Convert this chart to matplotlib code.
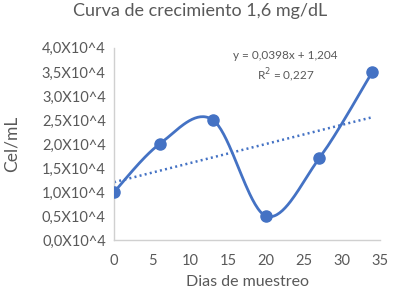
import numpy as np
import matplotlib.pyplot as plt

plt.rcParams['font.family'] = ['Lato', 'DejaVu Sans']

# --- datos ---
dias = [0, 6, 13, 20, 27, 34]
cel_ml = [1.0, 2.0, 2.5, 0.5, 1.7, 3.5]   # x10^4
pendiente = 0.0398
intercepto = 1.204
r2 = 0.227
y_ticks = [0.0, 0.5, 1.0, 1.5, 2.0, 2.5, 3.0, 3.5, 4.0]
x_ticks = [0, 5, 10, 15, 20, 25, 30, 35]

AZUL = '#4472C4'
GRIS = '#595959'


def curva_suave(x, y, n=40):
    """Curva suavizada tipo Excel (Bezier cubica, Catmull-Rom)."""
    pts = np.column_stack([x, y]).astype(float)
    pts_ext = np.vstack([pts[0], pts, pts[-1]])
    out = []
    for i in range(len(pts) - 1):
        p0, p1, p2, p3 = pts_ext[i], pts_ext[i + 1], pts_ext[i + 2], pts_ext[i + 3]
        c1 = p1 + (p2 - p0) / 6
        c2 = p2 - (p3 - p1) / 6
        t = np.linspace(0, 1, n)[:, None]
        seg = ((1 - t) ** 3) * p1 + 3 * ((1 - t) ** 2) * t * c1 + 3 * (1 - t) * t ** 2 * c2 + t ** 3 * p2
        out.append(seg if i == 0 else seg[1:])
    seg = np.vstack(out)
    return seg[:, 0], seg[:, 1]


fig = plt.figure(figsize=(4.09, 3.05), dpi=100)
ax = fig.add_axes([0.279, 0.213, 0.650, 0.630])

xs, ys = curva_suave(dias, cel_ml)
ax.plot(xs, ys, color=AZUL, lw=2.0, zorder=3)
ax.plot(dias, cel_ml, 'o', color=AZUL, ms=8, zorder=4)

xt = np.array([dias[0], dias[-1]])
ax.plot(xt, pendiente * xt + intercepto, color=AZUL, lw=1.8, ls=(0, (0.8, 1.3)), zorder=2)

etiqueta = f'y = {pendiente}x + {intercepto}\nR$^2$ = {r2}'.replace('.', ',')
ax.text(0.645, 0.90, etiqueta, transform=ax.transAxes, ha='center', va='center',
        fontsize=8.5, color=GRIS, linespacing=1.35)

ax.set_xlim(0, 35)
ax.set_ylim(0, 4.0)
ax.set_xticks(x_ticks)
ax.set_yticks(y_ticks)
ax.set_yticklabels([f'{v:.1f}'.replace('.', ',') + 'X10^4' for v in y_ticks])
ax.tick_params(length=0, labelsize=10.5, colors=GRIS)
ax.tick_params(axis='x', pad=10)
ax.tick_params(axis='y', pad=6)

for s in ['top', 'right']:
    ax.spines[s].set_visible(False)
for s in ['left', 'bottom']:
    ax.spines[s].set_color('#D0D0D0')
    ax.spines[s].set_linewidth(1.0)

ax.set_xlabel('Dias de muestreo', fontsize=11.5, color=GRIS, labelpad=5)
ax.set_ylabel('Cel/mL', fontsize=12.5, color=GRIS)
ax.yaxis.set_label_coords(-0.355, 0.5)
fig.suptitle('Curva de crecimiento 1,6 mg/dL', x=0.49, y=0.99, fontsize=13, color=GRIS)

fig.savefig('out.png', dpi=100)
